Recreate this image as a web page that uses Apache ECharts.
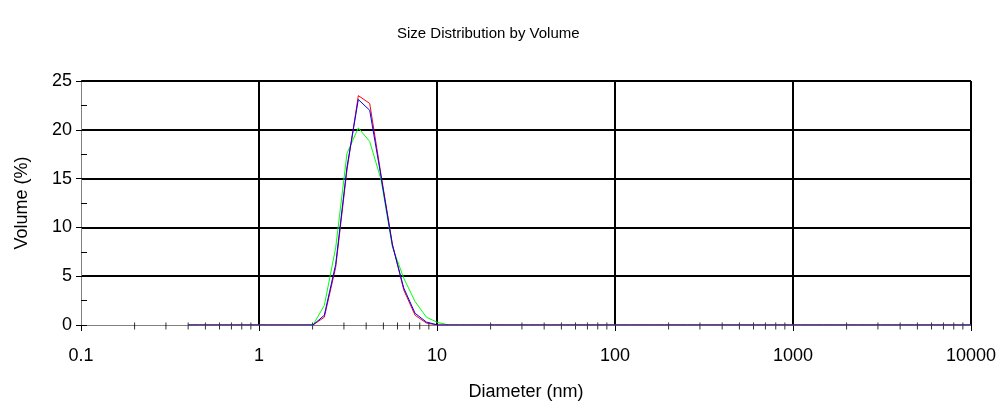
<!DOCTYPE html>
<html>
<head>
<meta charset="utf-8">
<title>Size Distribution by Volume</title>
<script src="https://cdn.jsdelivr.net/npm/echarts@6/dist/echarts.min.js"></script>
<style>
  html, body { margin: 0; padding: 0; background: #ffffff; }
  #chart { width: 1005px; height: 406px; }
</style>
</head>
<body>
<div id="chart"></div>
<script>
// Size classes (nm), log-spaced from 0.4 to 10000
const sizes = [
  0.4000, 0.4632, 0.5365, 0.6213, 0.7195, 0.8332, 0.9649, 1.117, 1.294, 1.499,
  1.736, 2.010, 2.328, 2.696, 3.122, 3.615, 4.187, 4.849, 5.615, 6.503,
  7.531, 8.721, 10.10, 11.70, 13.54, 15.69, 18.17, 21.04, 24.36, 28.21,
  32.67, 37.84, 43.82, 50.75, 58.77, 68.06, 78.82, 91.28, 105.7, 122.4,
  141.8, 164.2, 190.1, 220.2, 255.0, 295.3, 342.0, 396.1, 458.7, 531.2,
  615.1, 712.4, 825.0, 955.4, 1106, 1281, 1484, 1718, 1990, 2305,
  2669, 3091, 3580, 4145, 4801, 5560, 6439, 7456, 8635, 10000
];

// Volume (%) per size class for each measurement
const volumeRed = [
  0, 0, 0, 0, 0, 0, 0, 0, 0, 0,
  0, 0, 0.8, 5.9, 15.9, 23.5, 22.7, 15.4, 8.3, 3.6,
  1.0, 0.2, 0, 0, 0, 0, 0, 0, 0, 0,
  0, 0, 0, 0, 0, 0, 0, 0, 0, 0,
  0, 0, 0, 0, 0, 0, 0, 0, 0, 0,
  0, 0, 0, 0, 0, 0, 0, 0, 0, 0,
  0, 0, 0, 0, 0, 0, 0, 0, 0, 0
];
const volumeBlue = [
  0, 0, 0, 0, 0, 0, 0, 0, 0, 0,
  0, 0, 1.0, 6.2, 16.2, 23.1, 22.0, 15.2, 8.2, 3.8,
  1.2, 0.3, 0, 0, 0, 0, 0, 0, 0, 0,
  0, 0, 0, 0, 0, 0, 0, 0, 0, 0,
  0, 0, 0, 0, 0, 0, 0, 0, 0, 0,
  0, 0, 0, 0, 0, 0, 0, 0, 0, 0,
  0, 0, 0, 0, 0, 0, 0, 0, 0, 0
];
const volumeGreen = [
  0, 0, 0, 0, 0, 0, 0, 0, 0, 0,
  0, 0, 2.0, 7.9, 17.6, 20.2, 18.8, 14.9, 8.0, 4.8,
  2.4, 0.8, 0.25, 0, 0, 0, 0, 0, 0, 0,
  0, 0, 0, 0, 0, 0, 0, 0, 0, 0,
  0, 0, 0, 0, 0, 0, 0, 0, 0, 0,
  0, 0, 0, 0, 0, 0, 0, 0, 0, 0,
  0, 0, 0, 0, 0, 0, 0, 0, 0, 0
];

// Axis labels and minor tick positions on the log axis
const xTickLabels = ['0.1', '1', '10', '100', '1000', '10000'];
const xMinorTicks = [
  0.2, 0.3, 0.4, 0.5, 0.6, 0.7, 0.8, 0.9,
  2, 3, 4, 5, 6, 7, 8, 9,
  20, 30, 40, 50, 60, 70, 80, 90,
  200, 300, 400, 500, 600, 700, 800, 900,
  2000, 3000, 4000, 5000, 6000, 7000, 8000, 9000
];
const yTickLabels = ['0', '5', '10', '15', '20', '25'];

const FONT = '"Liberation Sans", Arial, Helvetica, sans-serif';

function pairs(values) {
  return sizes.map((s, i) => [s, values[i]]);
}

function lineSeries(name, color, values) {
  return {
    name: name,
    type: 'line',
    data: pairs(values),
    showSymbol: false,
    symbol: 'none',
    smooth: false,
    lineStyle: { color: color, width: 1 },
    itemStyle: { color: color },
    silent: true,
    animation: false,
    z: 3
  };
}

const chart = echarts.init(document.getElementById('chart'), null, { renderer: 'canvas' });

chart.setOption({
  backgroundColor: '#ffffff',
  animation: false,
  title: {
    text: 'Size Distribution by Volume',
    left: 397,
    top: 26,
    padding: 0,
    textStyle: { fontFamily: FONT, fontSize: 15, fontWeight: 'normal', color: '#000' }
  },
  grid: { left: 81, right: 34, top: 81, bottom: 81, containLabel: false },
  xAxis: {
    type: 'log',
    logBase: 10,
    min: 0.1,
    max: 10000,
    name: 'Diameter (nm)',
    nameLocation: 'middle',
    nameGap: 58,
    nameTextStyle: { fontFamily: FONT, fontSize: 18, color: '#000' },
    axisLine: { show: true, lineStyle: { color: '#808080', width: 1 } },
    axisTick: { show: true, length: 6, lineStyle: { color: '#000', width: 1 } },
    minorTick: { show: false },
    axisLabel: {
      fontFamily: FONT, fontSize: 18, color: '#000', margin: 22,
      formatter: (v, i) => xTickLabels[i]
    },
    splitLine: { show: true, showMinLine: false, lineStyle: { color: '#000', width: 2 } }
  },
  yAxis: [
    {
      type: 'value',
      min: 0,
      max: 25,
      interval: 5,
      name: 'Volume (%)',
      nameLocation: 'middle',
      nameGap: 50,
      nameTextStyle: { fontFamily: FONT, fontSize: 18, color: '#000' },
      axisLine: { show: true, lineStyle: { color: '#808080', width: 1 } },
      axisTick: { show: true, inside: true, length: 6, lineStyle: { color: '#000', width: 1 } },
      minorTick: { show: true, splitNumber: 2, length: 6, lineStyle: { color: '#000', width: 1 } },
      axisLabel: {
        fontFamily: FONT, fontSize: 18, color: '#000', margin: 9,
        formatter: (v, i) => yTickLabels[i]
      },
      splitLine: { show: true, showMinLine: false, lineStyle: { color: '#000', width: 2 } }
    },
    {
      // outer half of the major ticks on the value axis
      type: 'value',
      min: 0,
      max: 25,
      interval: 5,
      position: 'left',
      axisLine: { show: false },
      axisTick: { show: true, inside: false, length: 5, lineStyle: { color: '#000', width: 1 } },
      axisLabel: { show: false },
      splitLine: { show: false }
    }
  ],
  series: [
    {
      name: 'minor ticks',
      type: 'scatter',
      data: xMinorTicks.map(v => [v, 0]),
      symbol: 'rect',
      symbolSize: [1, 7],
      symbolOffset: [0, 1],
      itemStyle: { color: '#000' },
      silent: true,
      clip: false,
      animation: false,
      z: 1
    },
    lineSeries('Record 3', '#00ff00', volumeGreen),
    lineSeries('Record 1', '#ff0000', volumeRed),
    lineSeries('Record 2', '#0000ff', volumeBlue)
  ]
});
</script>
</body>
</html>
